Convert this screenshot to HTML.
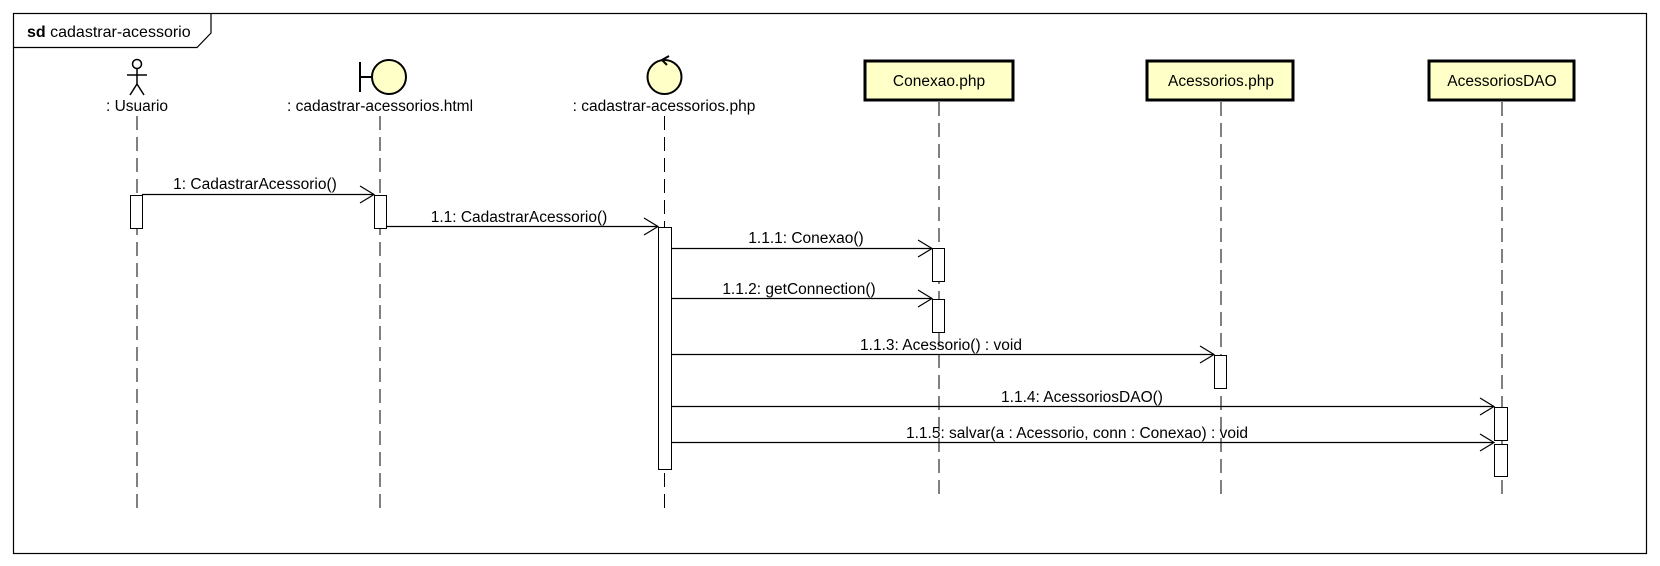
<!DOCTYPE html>
<html><head><meta charset="utf-8"><style>
html,body{margin:0;padding:0;background:#fff;}
svg{display:block;}
text{font-family:"Liberation Sans",sans-serif;font-size:15.5px;fill:#000;}
</style></head><body>
<svg width="1660" height="566" viewBox="0 0 1660 566" xmlns="http://www.w3.org/2000/svg">
<rect x="13.5" y="13.5" width="1633" height="540" fill="#fff" stroke="#000" stroke-width="1.2"/>
<path d="M13.5 47.5 H197 L211 33 V13.5" fill="none" stroke="#000" stroke-width="1.2"/>
<text x="27" y="37" style="font-size:16px"><tspan font-weight="bold">sd</tspan> cadastrar-acessorio</text>

<g stroke="#000" stroke-width="1" stroke-dasharray="14,7" fill="none">
<line x1="137" y1="116" x2="137" y2="513"/>
<line x1="380" y1="116" x2="380" y2="513"/>
<line x1="664.5" y1="116" x2="664.5" y2="513"/>
<line x1="939" y1="102" x2="939" y2="500"/>
<line x1="1221" y1="102" x2="1221" y2="500"/>
<line x1="1502" y1="102" x2="1502" y2="500"/>
</g>

<g stroke="#000" stroke-width="1.5" fill="none">
<circle cx="137" cy="64" r="4.5" fill="#fff"/>
<line x1="137" y1="69" x2="137" y2="84"/>
<line x1="127" y1="75" x2="147" y2="75"/>
<line x1="137" y1="84" x2="130" y2="95"/>
<line x1="137" y1="84" x2="144" y2="95"/>
</g>
<text x="137" y="111" text-anchor="middle">: Usuario</text>

<g stroke="#000" stroke-width="2">
<line x1="360" y1="62" x2="360" y2="92"/>
<line x1="360" y1="77" x2="372" y2="77"/>
<circle cx="389" cy="77" r="17" fill="#ffffc8"/>
</g>
<text x="380" y="111" text-anchor="middle">: cadastrar-acessorios.html</text>

<g stroke="#000" stroke-width="2" fill="none">
<circle cx="664.5" cy="77" r="17" fill="#ffffc8"/>
<path d="M669 56 L662 60 L667 65"/>
</g>
<text x="664" y="111" text-anchor="middle">: cadastrar-acessorios.php</text>

<g stroke="#000" stroke-width="3" fill="#ffffc8">
<rect x="865" y="61" width="148" height="39"/>
<rect x="1147" y="61" width="146" height="39"/>
<rect x="1429" y="61" width="145" height="39"/>
</g>
<text x="939" y="86" text-anchor="middle">Conexao.php</text>
<text x="1221" y="86" text-anchor="middle">Acessorios.php</text>
<text x="1502" y="86" text-anchor="middle">AcessoriosDAO</text>

<g stroke="#000" stroke-width="1" fill="#fff">
<rect x="130.5" y="195.5" width="12" height="33"/>
<rect x="374.5" y="195.5" width="12" height="33"/>
<rect x="658.5" y="227.5" width="13" height="242"/>
<rect x="932.5" y="248.5" width="12" height="33"/>
<rect x="932.5" y="299.5" width="12" height="33"/>
<rect x="1214.5" y="355.5" width="12" height="33"/>
<rect x="1494.5" y="407.5" width="13" height="33"/>
<rect x="1494.5" y="444.5" width="13" height="32"/>
</g>

<g stroke="#000" stroke-width="1.2" fill="none">
<line x1="142" y1="194.5" x2="374" y2="194.5"/><path d="M360 186 L374 194.5 L360 203"/>
<line x1="386" y1="226.5" x2="658" y2="226.5"/><path d="M644 218 L658 226.5 L644 235"/>
<line x1="671" y1="248.5" x2="932" y2="248.5"/><path d="M918 240 L932 248.5 L918 257"/>
<line x1="671" y1="298.5" x2="932" y2="298.5"/><path d="M918 290 L932 298.5 L918 307"/>
<line x1="671" y1="354.5" x2="1214" y2="354.5"/><path d="M1200 346 L1214 354.5 L1200 363"/>
<line x1="671" y1="406.5" x2="1494" y2="406.5"/><path d="M1480 398 L1494 406.5 L1480 415"/>
<line x1="671" y1="442.5" x2="1494" y2="442.5"/><path d="M1480 434 L1494 442.5 L1480 451"/>
</g>
<g text-anchor="middle">
<text x="255" y="189">1: CadastrarAcessorio()</text>
<text x="519" y="222">1.1: CadastrarAcessorio()</text>
<text x="806" y="243">1.1.1: Conexao()</text>
<text x="799" y="294">1.1.2: getConnection()</text>
<text x="941" y="350">1.1.3: Acessorio() : void</text>
<text x="1082" y="402">1.1.4: AcessoriosDAO()</text>
<text x="1077" y="438">1.1.5: salvar(a : Acessorio, conn : Conexao) : void</text>
</g>
</svg>
</body></html>
